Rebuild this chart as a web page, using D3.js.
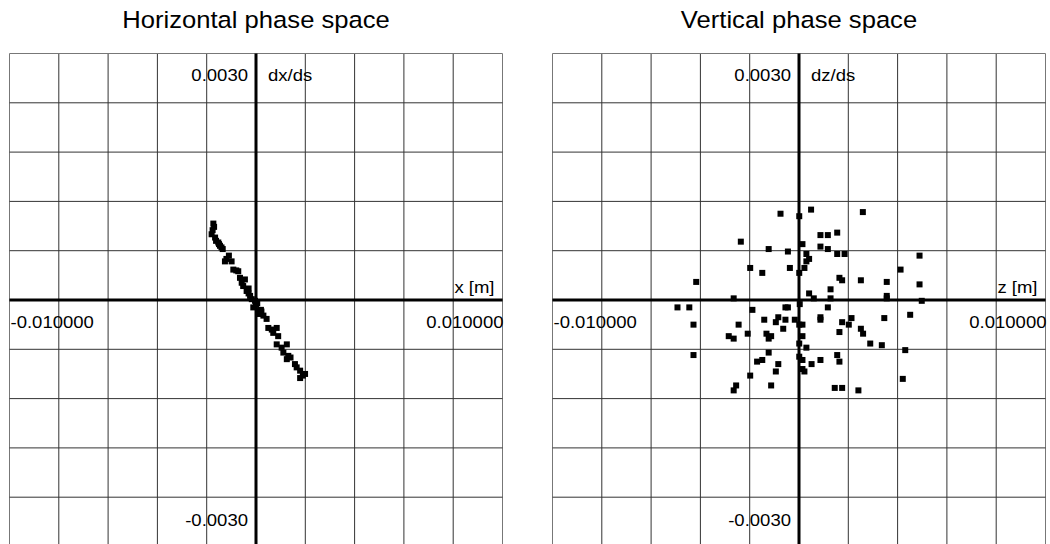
<!DOCTYPE html>
<html>
<head>
<meta charset="utf-8">
<script src="https://cdn.jsdelivr.net/npm/d3@7.9.0/dist/d3.min.js"></script>
<style>
  body { margin: 0; background: #fff; }
  svg { display: block; font-family: 'Liberation Sans', Arial, sans-serif; }
</style>
</head>
<body>
<svg id="chart" width="1050" height="544"></svg>
<script>
// horizontal phase space: x [m] vs dx/ds
const hx = [-0.00173, -0.00170, -0.00180, -0.00166, -0.00162, -0.00153, -0.00146, -0.00135,
  -0.00126, -0.00099, -0.00092, -0.00072, -0.00065, -0.00058, -0.00045, -0.00052, -0.00038,
  -0.00024, -0.00017, -0.00004, -0.00011, 0.00009, 0.00016, 0.00030, 0.00043, 0.00050,
  0.00064, 0.00084, 0.00090, 0.00084, 0.00104, 0.00125, 0.00111, 0.00131, 0.00125, 0.00158,
  0.00165, 0.00179, 0.00199, 0.00179, -0.00110, -0.00140, -0.00030, 0.00000, 0.00022,
  -0.00150, -0.00120, -0.00080, -0.00030, 0.00020, 0.00070, 0.00140, 0.00190, -0.00176, 0.00005];
const hdx = [0.00093, 0.00089, 0.00080, 0.00076, 0.00072, 0.00070, 0.00066, 0.00062,
  0.00047, 0.00047, 0.00037, 0.00035, 0.00027, 0.00021, 0.00025, 0.00017, 0.00011,
  0.00005, 0.00001, -0.00001, -0.00009, -0.00013, -0.00017, -0.00019, -0.00023, -0.00034,
  -0.00036, -0.00034, -0.00044, -0.00054, -0.00058, -0.00054, -0.00064, -0.00068, -0.00072, -0.00078,
  -0.00082, -0.00086, -0.00090, -0.00095, 0.00054, 0.00064, 0.00014, -0.00006, -0.00014,
  0.00068, 0.00050, 0.00036, 0.00008, -0.00012, -0.00040, -0.00070, -0.00092, 0.00085, -0.00004];

// vertical phase space: z [m] vs dz/ds
const vz = [0.00049, -0.00075, 0.00001, 0.00259, 0.00087, 0.00117, 0.00155, -0.00236, 0.00014,
  -0.00123, -0.00045, 0.00087, 0.00117, 0.00155, 0.00185, 0.00030, 0.00041, 0.00030, 0.00489,
  -0.00198, -0.00149, -0.00037, 0.00001, 0.00022, 0.00412, -0.00417, 0.00164, 0.00175, 0.00251,
  0.00356, 0.00489, 0.00128, 0.00041, 0.00060, 0.00128, 0.00356, 0.00356, -0.00265, 0.00498,
  -0.00493, -0.00445, 0.00003, -0.00055, -0.00045, 0.00117, -0.00189, -0.00084, -0.00094,
  -0.00055, -0.00141, -0.00017, 0.00087, 0.00087, 0.00213, 0.00175, 0.00346, 0.00451, -0.00428,
  -0.00245, 0.00001, 0.00014, 0.00202, -0.00064, 0.00164, 0.00251, 0.00260, -0.00285, -0.00265,
  -0.00208, -0.00132, -0.00113, -0.00123, 0.00014, 0.00001, 0.00030, 0.00289, 0.00336, 0.00431,
  -0.00428, -0.00123, 0.00155, 0.00164, 0.00001, 0.00014, 0.00087, 0.00051, -0.00084, -0.00170,
  -0.00149, -0.00094, 0.00014, 0.00022, -0.00198, -0.00113, 0.00421, -0.00255, -0.00265,
  0.00145, 0.00175, 0.00241];
const vdz = [0.00110, 0.00105, 0.00102, 0.00107, 0.00079, 0.00079, 0.00082, 0.00071, 0.00068,
  0.00062, 0.00059, 0.00065, 0.00062, 0.00056, 0.00056, 0.00056, 0.00050, 0.00047, 0.00054,
  0.00039, 0.00033, 0.00039, 0.00033, 0.00039, 0.00037, 0.00022, 0.00027, 0.00024, 0.00024,
  0.00022, 0.00019, 0.00013, 0.00008, 0.00002, 0.00002, 0.00005, 0.00002, 0.00002, -0.00001,
  -0.00009, -0.00009, -0.00005, -0.00009, -0.00009, -0.00009, -0.00012, -0.00021, -0.00027,
  -0.00024, -0.00024, -0.00024, -0.00021, -0.00024, -0.00022, -0.00027, -0.00022, -0.00018, -0.00030,
  -0.00030, -0.00030, -0.00030, -0.00030, -0.00035, -0.00039, -0.00035, -0.00041, -0.00044, -0.00047,
  -0.00041, -0.00041, -0.00044, -0.00047, -0.00044, -0.00053, -0.00058, -0.00053, -0.00055, -0.00061,
  -0.00067, -0.00064, -0.00067, -0.00075, -0.00069, -0.00073, -0.00073, -0.00078, -0.00078, -0.00075,
  -0.00073, -0.00087, -0.00084, -0.00087, -0.00092, -0.00104, -0.00096, -0.00104, -0.00110,
  -0.00107, -0.00107, -0.00110];

const xGrid = d3.range(-5, 6).map(i => i * 0.002);
const yGrid = d3.range(-5, 6).map(i => i * 0.0006);
const xDomain = [-0.01, 0.01];
const yDomain = [-0.003, 0.003];
const yTickLabels = ['0.0030', '-0.0030'];
const xTickLabels = ['-0.010000', '0.010000'];

const panels = [
  { title: 'Horizontal phase space', xs: hx, ys: hdx, xLabel: 'x [m]', yLabel: 'dx/ds', left: 9.5 },
  { title: 'Vertical phase space', xs: vz, ys: vdz, xLabel: 'z [m]', yLabel: 'dz/ds', left: 552.5 },
];

const svg = d3.select('#chart');
const size = 493;
const plotTop = 53.5;
const sx = 1.09; // text in the picture is slightly wide

function label(g, x, y, text, anchor, fs) {
  g.append('text')
    .attr('transform', `translate(${x},${y}) scale(${sx},1)`)
    .attr('text-anchor', anchor)
    .attr('font-size', fs)
    .attr('fill', '#000')
    .text(text);
}

panels.forEach(p => {
  const g = svg.append('g');
  const x = d3.scaleLinear().domain(xDomain).range([p.left, p.left + size]);
  const y = d3.scaleLinear().domain(yDomain).range([plotTop + size, plotTop]);

  label(g, p.left + size / 2, 28, p.title, 'middle', 23.5);

  g.selectAll('line.gx')
    .data(xGrid)
    .join('line')
    .attr('x1', d => x(d)).attr('x2', d => x(d))
    .attr('y1', plotTop).attr('y2', plotTop + size)
    .attr('stroke', (d, i) => (i === 0 || i === xGrid.length - 1) ? '#777' : '#333')
    .attr('stroke-width', 1);

  g.selectAll('line.gy')
    .data(yGrid)
    .join('line')
    .attr('y1', d => y(d)).attr('y2', d => y(d))
    .attr('x1', p.left).attr('x2', p.left + size)
    .attr('stroke', (d, i) => (i === 0 || i === yGrid.length - 1) ? '#777' : '#333')
    .attr('stroke-width', 1);

  // main axes
  g.append('line')
    .attr('x1', x(0)).attr('x2', x(0)).attr('y1', plotTop).attr('y2', plotTop + size)
    .attr('stroke', '#000').attr('stroke-width', 3);
  g.append('line')
    .attr('y1', y(0)).attr('y2', y(0)).attr('x1', p.left).attr('x2', p.left + size)
    .attr('stroke', '#000').attr('stroke-width', 3);

  label(g, x(0) - 8, plotTop + 27, yTickLabels[0], 'end', 17);
  label(g, x(0) - 8, plotTop + size - 21, yTickLabels[1], 'end', 17);
  label(g, x(0) + 12, plotTop + 27, p.yLabel, 'start', 17);
  label(g, p.left + 1, y(0) + 28, xTickLabels[0], 'start', 17);
  label(g, p.left + size + 1, y(0) + 28, xTickLabels[1], 'end', 17);
  label(g, p.left + size - 8, y(0) - 7, p.xLabel, 'end', 17);

  const pts = p.xs.map((v, i) => [v, p.ys[i]]);
  const m = 6;
  g.selectAll('rect.pt')
    .data(pts)
    .join('rect')
    .attr('x', d => x(d[0]) - m / 2)
    .attr('y', d => y(d[1]) - m / 2)
    .attr('width', m)
    .attr('height', m)
    .attr('fill', '#000');
});
</script>
</body>
</html>
